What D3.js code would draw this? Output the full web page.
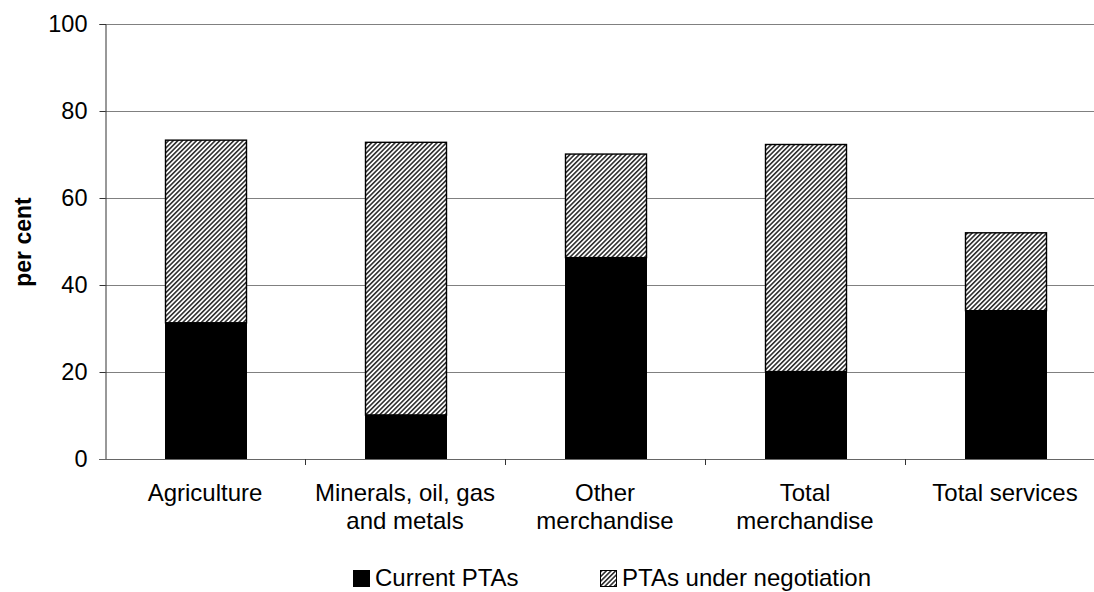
<!DOCTYPE html>
<html>
<head>
<meta charset="utf-8">
<script src="https://cdn.jsdelivr.net/npm/d3@7"></script>
<style>
  body { margin: 0; background: #fff; }
  svg { display: block; font-family: "Liberation Sans", Arial, sans-serif; }
</style>
</head>
<body>
<div id="maindiv"></div>
<script>
// data
var categories = [["Agriculture"], ["Minerals, oil, gas", "and metals"], ["Other", "merchandise"], ["Total", "merchandise"], ["Total services"]];
var currentPTAs = [31.3, 10.1, 46.3, 20.1, 34.1];
var underNegotiation = [42.0, 62.7, 23.8, 52.2, 17.9];
var yTicks = [0, 20, 40, 60, 80, 100];
var seriesNames = ["Current PTAs", "PTAs under negotiation"];

var width = 1094;
var height = 592;
var margin = { top: 24, bottom: 133, left: 105, right: -11 };
var fs = "24px";

var svg = d3.select("#maindiv")
    .append("svg")
    .attr("width", width)
    .attr("height", height);

var defs = svg.append("defs");
var pat = defs.append("pattern")
    .attr("id", "hatch")
    .attr("patternUnits", "userSpaceOnUse")
    .attr("width", 3.3)
    .attr("height", 3.3)
    .attr("patternTransform", "rotate(45)");
pat.append("rect").attr("width", 3.3).attr("height", 3.3).attr("fill", "#fff");
pat.append("line")
    .attr("x1", 0.8).attr("y1", 0).attr("x2", 0.8).attr("y2", 3.3)
    .attr("stroke", "#222").attr("stroke-width", 1.5);

var x = d3.scaleBand()
    .domain(d3.range(categories.length))
    .range([margin.left, width - margin.right])
    .padding(0);

var y = d3.scaleLinear()
    .domain([0, 100])
    .range([height - margin.bottom, margin.top]);

// gridlines
svg.append("g")
    .selectAll("line")
    .data(yTicks.filter(d => d > 0))
    .enter()
    .append("line")
    .attr("x1", margin.left)
    .attr("x2", width)
    .attr("y1", d => Math.round(y(d)) + 0.5)
    .attr("y2", d => Math.round(y(d)) + 0.5)
    .attr("stroke", "#808080")
    .attr("stroke-width", 1);

var barW = 81;
var barX = i => Math.round(x(i) + x.bandwidth() / 2 - barW / 2 + 0.5) + 0.5;

var stacked = categories.map((c, i) => ({ i: i, a: currentPTAs[i], b: underNegotiation[i] }));

var bars = svg.append("g");
// hatched part (under negotiation) on top
bars.selectAll(".neg")
    .data(stacked)
    .enter()
    .append("rect")
    .attr("class", "neg")
    .attr("x", d => barX(d.i))
    .attr("y", d => y(d.a + d.b))
    .attr("width", barW)
    .attr("height", d => y(d.a) - y(d.a + d.b))
    .attr("fill", "url(#hatch)")
    .attr("stroke", "#000")
    .attr("stroke-width", 1.4);

bars.selectAll(".cur")
    .data(stacked)
    .enter()
    .append("rect")
    .attr("class", "cur")
    .attr("x", d => barX(d.i))
    .attr("y", d => y(d.a))
    .attr("width", barW)
    .attr("height", d => y(0) - y(d.a))
    .attr("fill", "#000")
    .attr("stroke", "#000")
    .attr("stroke-width", 1);

// y axis
function yAxis(g) {
    g.attr("transform", `translate(${margin.left + 0.5},0)`)
        .call(d3.axisLeft(y).tickValues(yTicks).tickSize(6).tickPadding(12))
        .attr("font-size", "23.5px")
        .attr("font-family", "Liberation Sans, Arial, sans-serif");
    g.select(".domain").attr("stroke", "#333");
    g.selectAll(".tick line").attr("stroke", "#333");
    g.selectAll(".tick text").attr("fill", "#000");
}
svg.append("g").call(yAxis);

// x axis baseline + ticks at category boundaries
var xa = svg.append("g");
xa.append("line")
    .attr("x1", margin.left - 6)
    .attr("x2", width)
    .attr("y1", Math.round(y(0)) + 0.5)
    .attr("y2", Math.round(y(0)) + 0.5)
    .attr("stroke", "#666");
xa.selectAll(".xt")
    .data(d3.range(1, categories.length + 1))
    .enter()
    .append("line")
    .attr("x1", i => Math.round(x(0) + i * x.step()) + 0.5)
    .attr("x2", i => Math.round(x(0) + i * x.step()) + 0.5)
    .attr("y1", y(0))
    .attr("y2", y(0) + 6)
    .attr("stroke", "#333");

var labels = xa.selectAll(".xl")
    .data(categories)
    .enter()
    .append("text")
    .attr("text-anchor", "middle")
    .attr("font-size", fs)
    .attr("fill", "#000");
labels.each(function (lines, i) {
    var t = d3.select(this);
    lines.forEach(function (s, k) {
        t.append("tspan")
            .attr("x", x(i) + x.bandwidth() / 2)
            .attr("y", 501 + k * 28)
            .text(s);
    });
});

// y label
svg.append("text")
    .attr("transform", "translate(31,242) rotate(-90)")
    .attr("text-anchor", "middle")
    .attr("font-size", "23px")
    .attr("font-weight", "bold")
    .text("per cent");

// legend
var legX = [353, 600];
var leg = svg.append("g");
leg.selectAll("rect")
    .data(seriesNames)
    .enter()
    .append("rect")
    .attr("x", (d, i) => legX[i] + 0.5)
    .attr("y", 570.5)
    .attr("width", 16)
    .attr("height", 16)
    .attr("fill", (d, i) => i == 0 ? "#000" : "url(#hatch)")
    .attr("stroke", "#000");
leg.selectAll("text")
    .data(seriesNames)
    .enter()
    .append("text")
    .attr("x", (d, i) => legX[i] + 22)
    .attr("y", 586)
    .attr("font-size", fs)
    .attr("fill", "#000")
    .text(d => d);
</script>
</body>
</html>
